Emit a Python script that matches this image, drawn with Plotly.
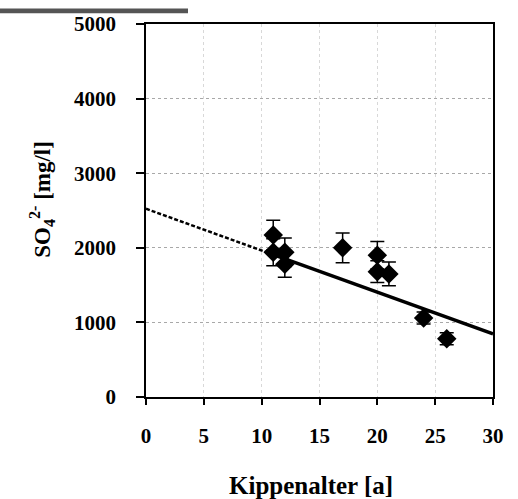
import plotly.graph_objects as go

# Data
age = [11, 11, 12, 12, 17, 20, 20, 21, 24, 26]
so4 = [2170, 1940, 1940, 1780, 2000, 1900, 1680, 1650, 1060, 780]
err = [200, 180, 190, 175, 200, 185, 145, 160, 80, 80]

# Regression line
intercept = 2523
slope = -55.9
dash_x = [0, 11]
solid_x = [11, 30]
dash_y = [intercept + slope * v for v in dash_x]
solid_y = [intercept + slope * v for v in solid_x]

x_ticks = [0, 5, 10, 15, 20, 25, 30]
y_ticks = [0, 1000, 2000, 3000, 4000, 5000]

fig = go.Figure()
fig.add_trace(go.Scatter(x=dash_x, y=dash_y, mode="lines",
                         line=dict(color="black", width=2.5, dash="4px,2px"),
                         showlegend=False))
fig.add_trace(go.Scatter(x=solid_x, y=solid_y, mode="lines",
                         line=dict(color="black", width=3.5),
                         showlegend=False))
fig.add_trace(go.Scatter(x=age, y=so4, mode="markers",
                         marker=dict(symbol="diamond", size=15, color="black"),
                         error_y=dict(type="data", array=err, visible=True,
                                      color="black", thickness=1.5, width=7),
                         showlegend=False))

tickfont = dict(family="Liberation Serif", size=21, color="black")
fig.update_layout(
    width=518, height=499,
    margin=dict(l=146, r=25, t=15, b=102),
    paper_bgcolor="white", plot_bgcolor="white",
    xaxis=dict(range=[0, 30], tickvals=x_ticks, ticktext=[f"<b>{v}</b>" for v in x_ticks],
               showline=True, linecolor="black", linewidth=1.5, mirror=True,
               ticks="outside", ticklen=6, tickcolor="black", tickwidth=1.5,
               ticklabelstandoff=13, tickfont=tickfont,
               showgrid=True, gridcolor="#d8d8d8", griddash="dot", gridwidth=1,
               zeroline=False),
    yaxis=dict(range=[0, 5000], tickvals=y_ticks, ticktext=[f"<b>{v}</b>" for v in y_ticks],
               showline=True, linecolor="black", linewidth=1.5, mirror=True,
               ticks="outside", ticklen=8, tickcolor="black", tickwidth=1.5,
               ticklabelstandoff=16, tickfont=tickfont,
               showgrid=True, gridcolor="#a8a8a8", griddash="dot", gridwidth=1,
               zeroline=False),
    annotations=[
        dict(text="<b>Kippenalter [a]</b>", xref="paper", yref="paper",
             x=(311 - 146) / 347, y=(397 - 488) / 382, xanchor="center", yanchor="middle",
             showarrow=False, font=dict(family="Liberation Serif", size=25, color="black")),
        dict(text="<b>SO<sub>4</sub><sup>2-</sup> [mg/l]</b>", xref="paper", yref="paper",
             x=(42 - 146) / 347, y=(397 - 195) / 382, xanchor="center", yanchor="middle",
             textangle=-90, showarrow=False,
             font=dict(family="Liberation Serif", size=23, color="black")),
    ],
    shapes=[
        dict(type="rect", xref="paper", yref="paper",
             x0=(0 - 146) / 347, x1=(188 - 146) / 347,
             y0=(397 - 4) / 382, y1=(397 + 1) / 382,
             fillcolor="#555555", line=dict(width=0), layer="above"),
    ],
)

fig.write_html("out.html")
